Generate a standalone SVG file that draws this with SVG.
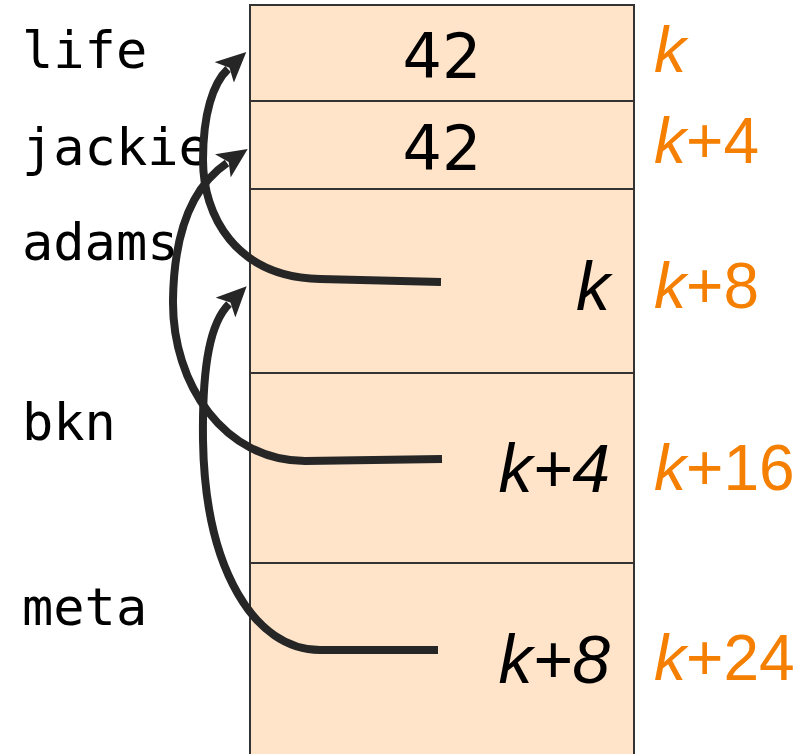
<svg xmlns="http://www.w3.org/2000/svg" width="800" height="754" viewBox="0 0 800 754">
<style>
.cell{fill:#FFE4C9;stroke:#333;stroke-width:2}
.var{font-family:"DejaVu Sans Mono",monospace;font-size:52px;fill:#000}
.val{font-family:"DejaVu Sans",sans-serif;font-size:62px;fill:#000;text-anchor:middle}
.ptr{font-family:"Liberation Sans",Arial,sans-serif;font-style:italic;font-size:68px;fill:#000;text-anchor:end}
.addr{font-family:"Liberation Sans",Arial,sans-serif;font-size:64px;fill:#F57F00}
.it{font-style:italic}
.conn{fill:none;stroke:#262626;stroke-width:8;stroke-linecap:butt}
</style>
<defs>
<marker id="ah" markerUnits="userSpaceOnUse" markerWidth="30" markerHeight="28" viewBox="0 0 30 28" refX="5" refY="14" orient="auto">
<path d="M0,0 L30,14 L0,28 L7,14 Z" fill="#262626"/>
</marker>
</defs>
<rect width="800" height="754" fill="#fff"/>
<g id="life">
<rect class="cell" x="250" y="5" width="384" height="96"/>
<text class="var" x="22" y="68">life</text>
<text class="val" x="442" y="78">42</text>
<text class="addr" x="654" y="72"><tspan class="it">k</tspan></text>
</g>
<g id="jackie">
<rect class="cell" x="250" y="101" width="384" height="88"/>
<text class="var" x="22" y="165">jackie</text>
<text class="val" x="442" y="170">42</text>
<text class="addr" x="654" y="163"><tspan class="it">k</tspan>+4</text>
</g>
<g id="adams">
<rect class="cell" x="250" y="189" width="384" height="184"/>
<text class="var" x="22" y="260">adams</text>
<text class="ptr" x="610" y="310">k</text>
<text class="addr" x="654" y="308"><tspan class="it">k</tspan>+8</text>
</g>
<g id="bkn">
<rect class="cell" x="250" y="373" width="384" height="190"/>
<text class="var" x="22" y="440">bkn</text>
<text class="ptr" x="610" y="492">k+4</text>
<text class="addr" x="654" y="490"><tspan class="it">k</tspan>+16</text>
</g>
<g id="meta">
<rect class="cell" x="250" y="563" width="384" height="200"/>
<text class="var" x="22" y="625">meta</text>
<text class="ptr" x="610" y="683">k+8</text>
<text class="addr" x="654" y="680"><tspan class="it">k</tspan>+24</text>
</g>
<g id="connectors">
<path class="conn" marker-end="url(#ah)" d="M441,282 L320,279 C235,277 203,215 203,160 C203,114 213,83 228,69"/>
<path class="conn" marker-end="url(#ah)" d="M442,459 L305,461 C225,461 172,385 173,300 C174,232 193,186 227,163"/>
<path class="conn" marker-end="url(#ah)" d="M438,650 L320,650 C255,650 205,570 203,440 C202,362 211,322 229,304"/>
</g>
</svg>
